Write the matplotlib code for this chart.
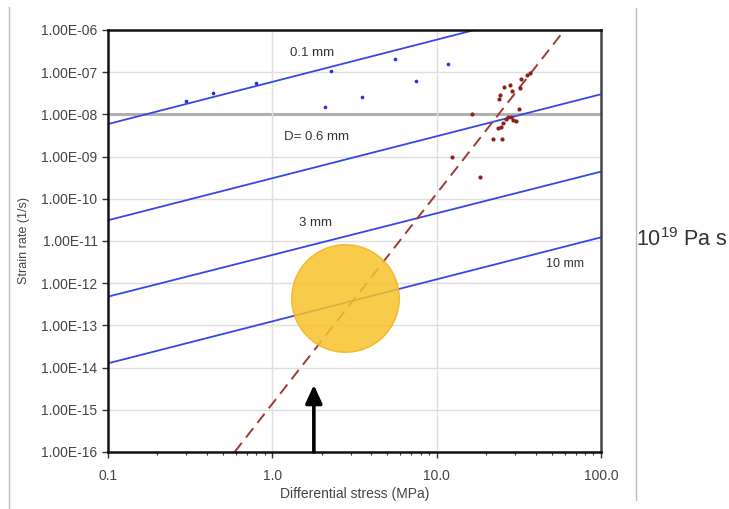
import matplotlib

matplotlib.use("Agg")
import matplotlib.pyplot as plt
from matplotlib.ticker import FixedLocator, LogLocator, NullFormatter

plt.rcParams["font.family"] = ["Liberation Sans", "DejaVu Sans"]
plt.rcParams["mathtext.fontset"] = "custom"
plt.rcParams["mathtext.rm"] = "Liberation Sans"
plt.rcParams["mathtext.it"] = "Liberation Sans:italic"

# diffusion creep lines (slope 1), one per grain size
GRAIN_LABELS = ["0.1 mm", "D= 0.6 mm", "3 mm", "10 mm"]
LINE_STRESS = [[0.1, 17.0], [0.1, 100.0], [0.1, 100.0], [0.1, 100.0]]
LINE_RATE = [[5.9e-9, 1.0e-6], [3.1e-11, 3.0e-8], [4.8e-13, 4.4e-10], [1.26e-14, 1.22e-11]]
LABEL_POS = [(1.74, 2.85e-7), (1.85, 2.9e-9), (1.84, 2.67e-11), (60.8, 2.85e-12)]
LABEL_SIZE = [9.5, 9.5, 9.5, 9.0]

# dislocation creep trend (dashed)
DISL_STRESS = [0.59, 60.0]
DISL_RATE = [1.0e-16, 1.0e-6]

# experimental data
BLUE_STRESS = [0.30, 0.435, 0.80, 2.29, 5.56, 11.8, 7.45, 2.09, 3.5]
BLUE_RATE = [2.08e-8, 3.2e-8, 5.5e-8, 1.09e-7, 2.0e-7, 1.56e-7, 6.1e-8, 1.52e-8, 2.54e-8]

RED_STRESS = [16.3, 12.4, 18.4, 22.0, 24.9, 23.9, 24.4, 25.6, 27.8, 28.9, 32.0, 32.6,
              35.4, 36.8, 31.5, 28.2, 29.1, 30.2, 26.5, 25.5, 24.5, 23.7, 27.1]
RED_RATE = [1.02e-8, 9.8e-10, 3.2e-10, 2.57e-9, 2.57e-9, 2.28e-8, 2.88e-8, 4.4e-8, 4.98e-8,
            3.58e-8, 4.15e-8, 6.8e-8, 8.6e-8, 9.7e-8, 1.36e-8, 8.8e-9, 7.4e-9, 7.0e-9,
            7.7e-9, 6.2e-9, 5.1e-9, 4.7e-9, 8.8e-9]

# highlighted region and arrow
CIRCLE_CENTER = (2.76, 4.4e-13)
ARROW_STRESS = 1.79
ARROW_TIP = 3.9e-15

Y_TICKS = [10.0 ** e for e in range(-16, -5)]
X_TICKS = [0.1, 1.0, 10.0, 100.0]
X_TICK_LABELS = ["0.1", "1.0", "10.0", "100.0"]

BLUE = "#3547E4"
RED = "#9E3A34"

fig = plt.figure(figsize=(7.29, 5.09), dpi=100)
ax = fig.add_axes([0.1481, 0.1120, 0.6763, 0.8291])

ax.set_xscale("log")
ax.set_yscale("log")
ax.set_xlim(0.1, 100)
ax.set_ylim(1e-16, 1e-6)

# grid
for yv in Y_TICKS:
    if abs(yv - 1e-8) / 1e-8 < 1e-6:
        ax.axhline(yv, color="#B0B0B0", lw=2.2, zorder=0)
    else:
        ax.axhline(yv, color="#DEDEDE", lw=1.0, zorder=0)
for xv in [1.0, 10.0]:
    ax.axvline(xv, color="#DEDEDE", lw=1.0, zorder=0)

for xs, ys in zip(LINE_STRESS, LINE_RATE):
    ax.plot(xs, ys, color=BLUE, lw=1.3, zorder=2)
for lab, (lx, ly), fs in zip(GRAIN_LABELS, LABEL_POS, LABEL_SIZE):
    ax.text(lx, ly, lab, fontsize=fs, color="#333333", ha="center", va="center", zorder=3)

ax.plot(DISL_STRESS, DISL_RATE, color=RED, lw=1.4, ls=(0, (6, 3.5)), zorder=2)

ax.scatter(BLUE_STRESS, BLUE_RATE, s=7, color="#2233DD", zorder=3, linewidths=0)
ax.scatter(RED_STRESS, RED_RATE, s=9, color="#8E1F1A", zorder=3, linewidths=0)

ax.scatter([CIRCLE_CENTER[0]], [CIRCLE_CENTER[1]], s=6000, color="#F9C22B", alpha=0.85,
           edgecolors="#F2B01E", linewidths=1.0, zorder=4)

ax.annotate("", xy=(ARROW_STRESS, ARROW_TIP), xytext=(ARROW_STRESS, 1e-16),
            arrowprops=dict(arrowstyle="-|>,head_length=0.55,head_width=0.25",
                            color="black", lw=2.6, mutation_scale=20,
                            shrinkA=0, shrinkB=0),
            zorder=5, annotation_clip=False)

# ticks
ax.xaxis.set_major_locator(FixedLocator(X_TICKS))
ax.set_xticklabels(X_TICK_LABELS)
ax.xaxis.set_minor_locator(LogLocator(base=10, subs=range(2, 10)))
ax.xaxis.set_minor_formatter(NullFormatter())
ax.yaxis.set_major_locator(FixedLocator(Y_TICKS))
ax.set_yticklabels([f"1.00E-{-e:02d}" for e in range(-16, -5)])
ax.yaxis.set_minor_locator(LogLocator(base=10, subs=range(2, 10)))
ax.yaxis.set_minor_formatter(NullFormatter())
ax.tick_params(which="major", direction="out", length=4, width=1, labelsize=10,
               colors="#333333", labelcolor="#444444")
ax.tick_params(axis="x", which="major", pad=8)
ax.tick_params(which="minor", direction="out", length=2, width=0.8, colors="#333333")

for side in ["left", "bottom", "top"]:
    ax.spines[side].set_linewidth(1.8)
    ax.spines[side].set_color("#111111")
ax.spines["right"].set_linewidth(1.8)
ax.spines["right"].set_color("#444444")

ax.set_xlabel("Differential stress (MPa)", fontsize=10, color="#444444", labelpad=3)
ax.set_ylabel("Strain rate (1/s)", fontsize=9, color="#444444", labelpad=8)

# frame lines of the slide and the viscosity note
fig.add_artist(plt.Line2D([9 / 729, 9 / 729], [0, 1 - 7 / 509], color="#BBBBBB", lw=1.0))
fig.add_artist(plt.Line2D([636 / 729, 636 / 729], [1 - 500 / 509, 1 - 8 / 509],
                          color="#BBBBBB", lw=1.0))
fig.text(636 / 729, 1 - 240 / 509, r"10$^{\mathregular{19}}$ Pa s", fontsize=15.5,
         color="#333333", ha="left", va="center")

plt.savefig("out.png", dpi=100)
